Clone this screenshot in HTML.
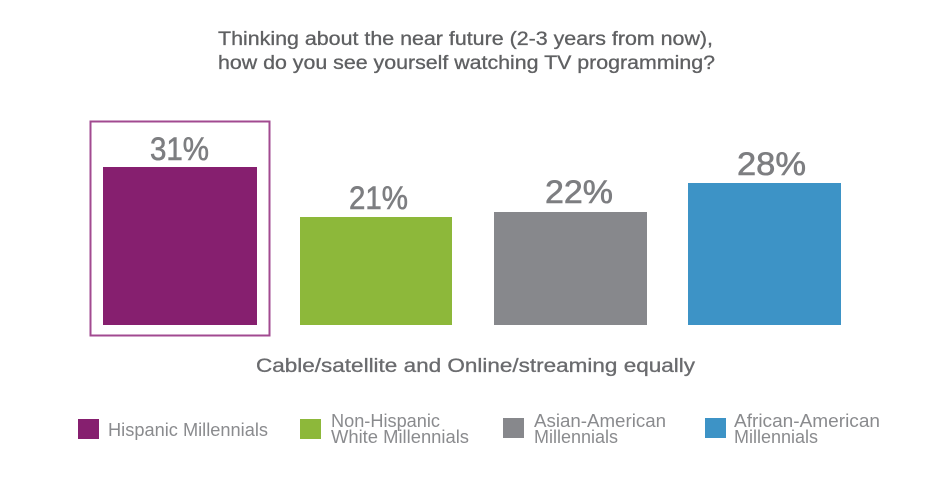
<!DOCTYPE html>
<html>
<head>
<meta charset="utf-8">
<style>
html,body{margin:0;padding:0;background:#fff;}
svg{display:block;}
text{font-family:"Liberation Sans",Arial,sans-serif;}
</style>
</head>
<body>
<svg width="938" height="499" viewBox="0 0 938 499" xmlns="http://www.w3.org/2000/svg">
<rect x="0" y="0" width="938" height="499" fill="#ffffff"/>
<!-- Title -->
<g fill="#5f6062" stroke="#5f6062" stroke-width="0.3">
<text x="218" y="45" font-size="19" textLength="495" lengthAdjust="spacingAndGlyphs">Thinking about the near future (2-3 years from now),</text>
<text x="218" y="69" font-size="19" textLength="497" lengthAdjust="spacingAndGlyphs">how do you see yourself watching TV programming?</text>
</g>

<!-- Highlight box -->
<rect x="90.5" y="121.5" width="179" height="214" fill="none" stroke="#a24a90" stroke-width="2"/>

<!-- Bars -->
<rect x="103" y="167" width="154" height="158" fill="#861f6f"/>
<rect x="300" y="217" width="152" height="108" fill="#8db83a"/>
<rect x="494" y="212" width="153" height="113" fill="#87888c"/>
<rect x="688" y="183" width="153" height="142" fill="#3d93c6"/>

<!-- Values -->
<g fill="#7d7e81" stroke="#7d7e81" stroke-width="0.6">
<text x="150" y="160" font-size="32" textLength="59" lengthAdjust="spacingAndGlyphs">31%</text>
<text x="349" y="209" font-size="32" textLength="59" lengthAdjust="spacingAndGlyphs">21%</text>
<text x="545" y="203" font-size="32" textLength="68" lengthAdjust="spacingAndGlyphs">22%</text>
<text x="737" y="175" font-size="32" textLength="69" lengthAdjust="spacingAndGlyphs">28%</text>
</g>

<!-- Subtitle -->
<text x="256" y="372" font-size="19" fill="#6a6b6e" stroke="#6a6b6e" stroke-width="0.3" textLength="439" lengthAdjust="spacingAndGlyphs">Cable/satellite and Online/streaming equally</text>

<!-- Legend -->
<rect x="78" y="419" width="21" height="20" fill="#861f6f"/>
<text x="108" y="436" font-size="18" fill="#8a8b8e" textLength="160" lengthAdjust="spacingAndGlyphs">Hispanic Millennials</text>

<rect x="300" y="419" width="21" height="20" fill="#8db83a"/>
<text x="331" y="427" font-size="18" fill="#8a8b8e" textLength="109" lengthAdjust="spacingAndGlyphs">Non-Hispanic</text>
<text x="331" y="443" font-size="18" fill="#8a8b8e" textLength="138" lengthAdjust="spacingAndGlyphs">White Millennials</text>

<rect x="503" y="418" width="21" height="20" fill="#87888c"/>
<text x="534" y="427" font-size="18" fill="#8a8b8e" textLength="132" lengthAdjust="spacingAndGlyphs">Asian-American</text>
<text x="534" y="443" font-size="18" fill="#8a8b8e" textLength="84" lengthAdjust="spacingAndGlyphs">Millennials</text>

<rect x="705" y="418" width="21" height="20" fill="#3d93c6"/>
<text x="734" y="427" font-size="18" fill="#8a8b8e" textLength="146" lengthAdjust="spacingAndGlyphs">African-American</text>
<text x="734" y="443" font-size="18" fill="#8a8b8e" textLength="84" lengthAdjust="spacingAndGlyphs">Millennials</text>
</svg>
</body>
</html>
